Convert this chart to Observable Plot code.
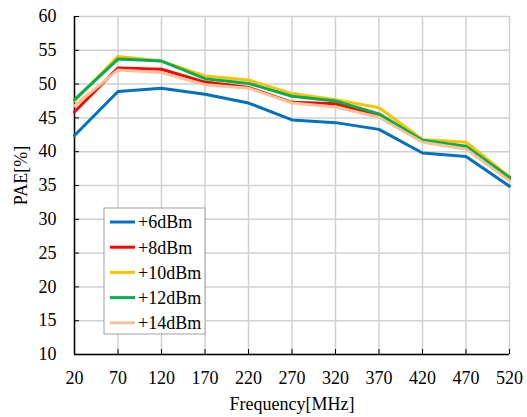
<!DOCTYPE html>
<html><head><meta charset="utf-8">
<script src="https://cdn.jsdelivr.net/npm/d3@7"></script>
<script src="https://cdn.jsdelivr.net/npm/@observablehq/plot@0.6"></script>
<style>
body{margin:0;background:#fff}
#chart svg, #chart svg text { font-family: "Liberation Serif", Tinos, "Times New Roman", serif !important; font-size: 18px !important; }
</style>
</head><body><div id="chart"></div>
<script>
const freqs = [20, 70, 120, 170, 220, 270, 320, 370, 420, 470, 520];
const seriesNames = ["+6dBm", "+8dBm", "+10dBm", "+12dBm", "+14dBm"];
const pae6  = [42.4, 48.9, 49.4, 48.5, 47.2, 44.7, 44.3, 43.3, 39.8, 39.3, 34.9];
const pae8  = [45.9, 52.4, 52.2, 50.3, 49.5, 47.3, 47.1, 45.4, 41.7, 40.7, 36.0];
const pae10 = [47.5, 54.1, 53.4, 51.2, 50.6, 48.6, 47.7, 46.5, 41.8, 41.4, 36.3];
const pae12 = [47.7, 53.7, 53.4, 50.8, 50.1, 48.2, 47.5, 45.6, 41.7, 40.8, 36.2];
const pae14 = [46.8, 52.1, 51.7, 49.9, 49.4, 47.2, 46.6, 45.1, 41.4, 40.4, 35.7];
const colors = ["#0070C0", "#FF0000", "#FFC000", "#00B050", "#F8C39B"];
const xTicks = [20, 70, 120, 170, 220, 270, 320, 370, 420, 470, 520];
const yTicks = [10, 15, 20, 25, 30, 35, 40, 45, 50, 55, 60];

const allSeries = [pae6, pae8, pae10, pae12, pae14];
const rows = [];
allSeries.forEach((vals, si) => vals.forEach((v, i) => rows.push({s: seriesNames[si], f: freqs[i], v})));

const chart = Plot.plot({
  width: 527, height: 417,
  marginLeft: 74, marginRight: 18, marginTop: 16, marginBottom: 63,
  style: {color: "#000", background: "#fff"},
  x: {domain: [20, 520], ticks: xTicks},
  y: {domain: [10, 60], ticks: yTicks},
  color: {domain: seriesNames, range: colors},
  marks: [
    Plot.ruleX(xTicks, {stroke: "#d0d0d0", strokeWidth: 1.5}),
    Plot.ruleY(yTicks, {stroke: "#d0d0d0", strokeWidth: 1.5}),
    Plot.axisX({ticks: xTicks, tickSize: 0, tickPadding: 17, label: "Frequency[MHz]", labelAnchor: "center", labelArrow: "none", labelOffset: 55}),
    Plot.axisY({ticks: yTicks, tickSize: 0, tickPadding: 18, label: null}),
    Plot.axisX({ticks: xTicks, tickSize: 5, dy: -5, text: null, label: null, stroke: "#000"}),
    Plot.axisY({ticks: yTicks, tickSize: 5, dx: 5, text: null, label: null, stroke: "#000"}),
    Plot.text(["PAE[%]"], {frameAnchor: "left", textAnchor: "middle", lineAnchor: "middle", rotate: -90, dx: -53, dy: -10, fill: "#000"}),
    Plot.ruleX([20], {stroke: "#000", strokeWidth: 1.5}),
    Plot.ruleY([10], {stroke: "#000", strokeWidth: 1.5}),
    ...seriesNames.map(n => Plot.line(rows.filter(r => r.s === n), {x: "f", y: "v", stroke: "s", strokeWidth: 3, strokeLinejoin: "miter"}))
  ]
});
document.getElementById("chart").append(chart);

// legend
const svg = d3.select(chart);
const lg = svg.append("g").attr("class", "legend").attr("transform", "translate(104,208)");
lg.append("rect").attr("width", 101).attr("height", 126).attr("fill", "#fff").attr("stroke", "#a0a0a0").attr("stroke-width", 1);
seriesNames.forEach((n, i) => {
  const y = 14 + i * 25.2;
  lg.append("line").attr("x1", 6).attr("x2", 31).attr("y1", y).attr("y2", y).attr("stroke", colors[i]).attr("stroke-width", 3);
  lg.append("text").attr("x", 34).attr("y", y).attr("dy", "0.35em").attr("text-anchor", "start").attr("fill", "#000").text(n);
});
</script></body></html>
